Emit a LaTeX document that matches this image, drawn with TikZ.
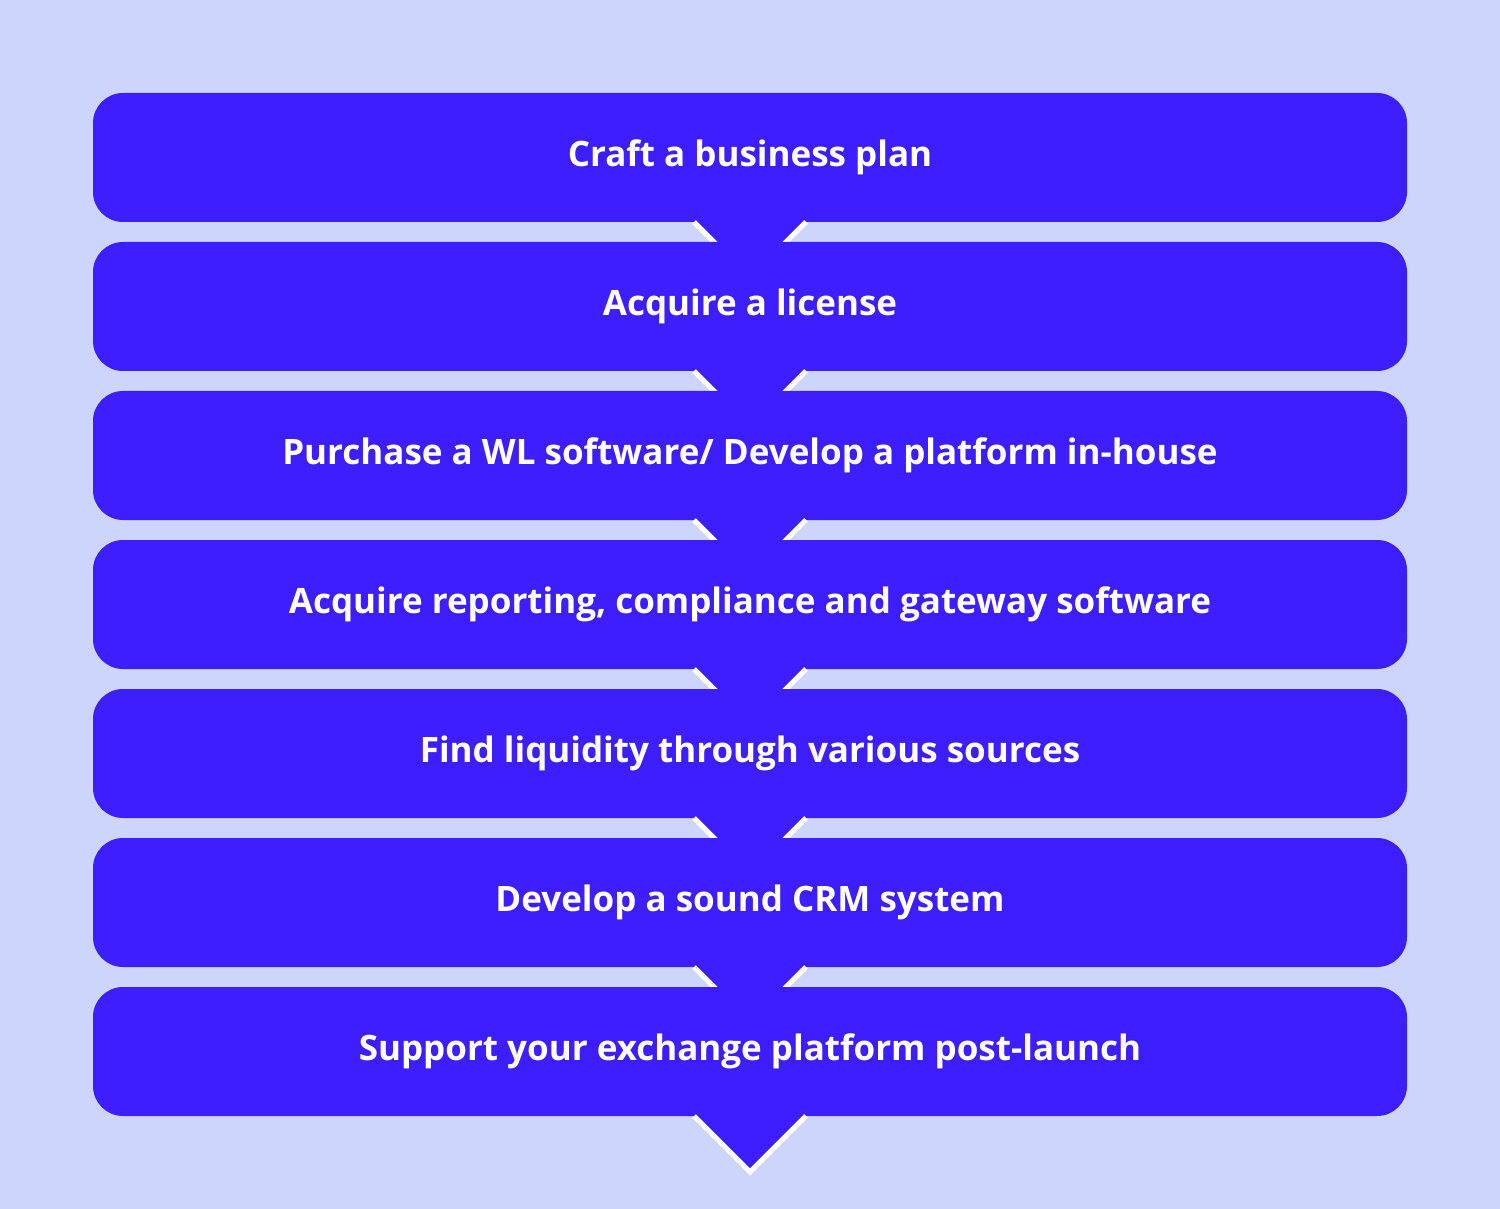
\documentclass[tikz,border=0pt]{standalone}
\usepackage{fontspec}
\setmainfont{Open Sans}
\definecolor{cbackdrop}{RGB}{205,213,253}
\definecolor{cstepblue}{RGB}{61,30,255}

\begin{document}
\begin{tikzpicture}[y=-0.5pt, x=0.5pt, inner sep=0pt, outer sep=0pt,
  stepbox/.style={fill=cstepblue, rounded corners=15pt, minimum width=657pt,
    minimum height=64.5pt, text=white, font=\fontsize{17.5}{20}\selectfont\bfseries},
  chevron/.style={fill=cstepblue, draw=white, line width=2.6pt, line join=miter}]
\path[fill=cbackdrop] (0,0) rectangle (1500,1209);
\foreach \txt [count=\i from 0] in {Craft a business plan, Acquire a license,
    {Purchase a WL software/ Develop a platform in-house},
    {Acquire reporting, compliance and gateway software},
    Find liquidity through various sources, Develop a sound CRM system,
    Support your exchange platform post-launch} {
  % step box
  \node[stepbox] (step\i) at (750,{157.5+149*\i}) {\txt};
  % arrow below the box
  \path[chevron] ([xshift=-28pt]step\i.south) -- ([yshift=-28pt]step\i.south) --
    ([xshift=28pt]step\i.south);
  \path[fill=cstepblue] ([xshift=-26pt,yshift=1pt]step\i.south) -- ([yshift=-25pt]step\i.south) --
    ([xshift=26pt,yshift=1pt]step\i.south) -- cycle;
}
\end{tikzpicture}
\end{document}
